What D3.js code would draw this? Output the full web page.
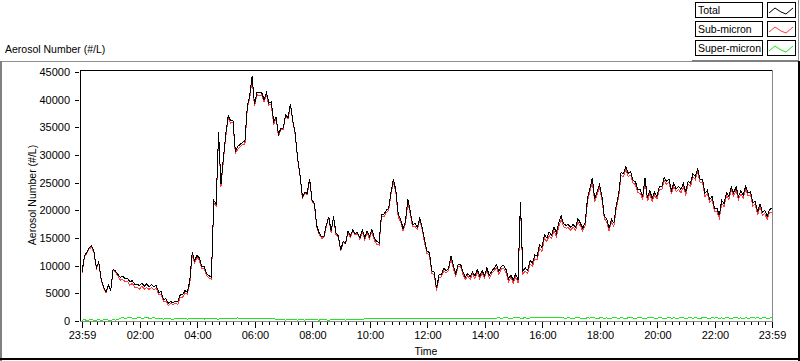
<!DOCTYPE html>
<html><head><meta charset="utf-8">
<script src="https://cdn.jsdelivr.net/npm/d3@7"></script>
<style>
html,body{margin:0;padding:0;background:#fff;overflow:hidden;}
svg{display:block;font-family:"Liberation Sans",Arial,sans-serif;}
</style></head><body>
<svg id="c" width="800" height="361"></svg>
<script>
// ---- data (5-minute samples from 23:59 to 23:59 next day) ----
const seriesNames = ["Total", "Sub-micron", "Super-micron"];
const seriesColors = ["#000000", "#ff3c3c", "#1ee81e"];
const stepMinutes = 5;

const total = [
8800,11700,12400,13200,13600,12500,9600,10700,7600,6200,
5300,6500,5600,9400,9000,8400,7900,8100,7600,7700,
7100,7300,6600,6700,6400,6800,6300,6700,6200,6600,
6200,6400,5200,5300,3900,4000,3200,3500,3300,3600,
3500,4700,4700,5500,5200,7300,12400,10900,11900,11400,
9800,9800,8600,8200,7900,21800,21200,34100,24700,29300,
33700,37100,36200,36300,30700,31600,31900,32300,32500,38800,
40700,44200,39200,41300,41200,41300,40000,41300,39400,39600,
36000,36800,33700,34800,34900,37300,36700,39200,36200,33900,
29400,26400,22400,23200,23100,25700,21900,21200,17200,15900,
15200,15300,17400,18800,16200,18900,15900,15400,12800,14400,
14100,16200,15400,16400,15800,16000,15000,16500,15100,16300,
15300,16600,15000,14400,14100,19300,19300,20000,20400,23400,
25600,23600,19200,18400,16700,17900,22000,19800,17400,17600,
17000,18600,16900,14600,12600,12400,9100,8800,5900,8300,
8400,9500,9100,9500,11800,10000,8500,10300,10300,8900,
7900,8600,8000,8900,8100,9300,8100,9100,8200,9600,
8200,9000,9500,10200,9000,9900,10000,9300,7600,8300,
7400,8500,7500,21500,9000,9600,9100,10900,10500,11900,
11700,13800,13300,15600,15000,16100,15500,17000,15900,17700,
19000,17600,17300,17400,16900,17500,16900,18500,17700,16800,
17700,22200,23900,25800,22000,23400,24600,22600,19000,18500,
16800,18400,17700,20900,22900,26900,26600,27900,26700,27000,
25400,25200,23700,23700,22400,25800,22200,23500,22200,23300,
22500,24300,24300,25900,25200,25700,23600,24900,23900,24300,
23800,24800,23300,25300,24900,26600,26100,27500,25500,25600,
23100,23600,22000,22500,20400,20400,19100,21800,21200,23200,
22500,24200,23100,24300,22500,23500,22700,24400,23100,23400,
21400,21600,19700,21200,19700,20000,18900,20200,20300
];

const subMicron = [
8650,11470,12280,13020,13350,12360,9440,10480,7470,6010,
5060,6350,5480,9190,8830,8140,7380,7500,7120,7150,
6460,6790,6130,6140,5780,6300,5760,6000,5710,6070,
5590,5920,4820,4860,3550,3600,2740,3140,2970,3180,
3020,4330,4310,5050,4860,6890,11930,10520,11540,10970,
9410,9450,8160,7800,7530,21340,20820,33760,24280,28910,
33250,36680,35720,35910,30260,31040,31500,31870,32000,38420,
40250,43730,38790,40910,40680,40860,39600,40840,39020,39170,
35510,36600,33440,34620,34680,37150,36460,39010,35990,33630,
29230,26170,22200,23040,22850,25490,21720,20960,17000,15730,
14940,15080,17210,18650,15970,18690,15630,15220,12600,14160,
13930,15980,15140,16210,15590,15820,14750,16200,14720,15880,
14840,16200,14560,13900,13710,18870,18830,19590,20020,22950,
25080,23180,18800,17940,16270,17510,21520,19360,16990,17040,
16580,18220,16450,14130,12200,11970,8610,8380,5510,7850,
7990,9030,8670,9100,11340,9480,8090,9860,9910,8430,
7470,8190,7520,8450,7700,8870,7600,8680,7810,9140,
7760,8590,9030,9670,8420,9400,9450,8690,7080,7810,
6840,7960,6900,20990,8470,9030,8600,10350,9880,11220,
11100,13150,12580,14990,14360,15410,14900,16340,15280,17000,
18370,17050,16790,16820,16370,17010,16340,17900,17180,16260,
17200,21630,23370,25190,21450,22900,24060,22020,18480,17940,
16310,17870,17100,20350,22390,26330,26060,27400,26140,26380,
24870,24690,23150,23120,21880,25310,21640,22960,21600,22770,
21990,23730,23750,25400,24660,25110,23080,24340,23390,23770,
23200,24250,22810,24760,24320,26080,25540,26970,25000,25030,
22490,23060,21490,21940,19870,19810,18600,21250,20680,22620,
21960,23690,22540,23700,21970,22950,22200,23830,22580,22860,
20810,21070,19140,20690,19150,19420,18380,19660,19700
];

const superMicron = [
150,230,120,180,250,140,160,220,130,190,240,150,120,210,170,260,
520,600,480,550,640,510,470,560,620,500,540,700,490,530,610,480,
380,440,350,400,460,360,330,420,480,370,390,450,340,410,470,380,360,430,390,350,440,400,370,460,380,340,420,390,450,
420,480,390,440,560,400,430,500,380,450,470,410,390,520,440,400,460,380,430,490,
200,260,180,220,150,240,190,210,270,170,230,200,160,250,210,180,240,200,170,260,220,190,150,230,210,270,180,200,240,170,220,260,190,210,180,
250,300,380,420,460,400,440,500,390,430,470,410,380,450,520,420,400,460,430,390,480,440,410,560,420,380,450,470,400,430,490,420,390,450,410,470,430,400,460,520,410,440,390,470,430,410,480,450,400,430,500,420,390,460,440,410,470,
530,580,500,550,610,520,490,560,540,600,510,530,570,500,550,
620,680,600,650,720,610,640,690,600,660,620,700,630,
550,510,580,530,490,560,600,520,540,500,570,530,610,550,500,540,580,520,560,490,
530,600,550,510,570,540,500,560,620,530,510,550,580,520,490,560,540,600,530,510,
570,550,500,540,590,520,560,510,530,600,550,490,540,580,520,560,530,500,570,610,
540,510,560,530,590,500,550,520,580,540,510,560,600,530,550,500,570,520,540,590,
530,560,510,550,580,520,540,600
];

const xTickLabels = ["23:59","02:00","04:00","06:00","08:00","10:00","12:00","14:00","16:00","18:00","20:00","22:00","23:59"];
const yTickValues = [0,5000,10000,15000,20000,25000,30000,35000,40000,45000];
const chartTitle = "Aerosol Number (#/L)";
const yAxisTitle = "Aerosol Number (#/L)";
const xAxisTitle = "Time";

// ---- drawing ----
const svg = d3.select("#c");
const t0 = new Date(2000, 0, 1, 23, 59);
const t1 = new Date(2000, 0, 2, 23, 59);
const x = d3.scaleTime().domain([t0, t1]).range([82, 772]);
const y = d3.scaleLinear().domain([0, 45000]).range([321, 72]);
const times = total.map((_, i) => new Date(t0.getTime() + i * stepMinutes * 60000));

// outer panel borders
svg.append("rect").attr("x",0).attr("y",0).attr("width",800).attr("height",361).attr("fill","#fff");
svg.append("line").attr("x1",0).attr("x2",692).attr("y1",61.5).attr("y2",61.5).attr("stroke","#909090");
svg.append("line").attr("x1",692).attr("x2",798).attr("y1",61).attr("y2",61).attr("stroke","#808080").attr("stroke-width",2);
svg.append("line").attr("x1",1).attr("x2",1).attr("y1",61).attr("y2",361).attr("stroke","#808080").attr("stroke-width",2);
svg.append("line").attr("x1",0).attr("x2",800).attr("y1",359).attr("y2",359).attr("stroke","#000").attr("stroke-width",2);
svg.append("line").attr("x1",798.5).attr("x2",798.5).attr("y1",0).attr("y2",61).attr("stroke","#909090");
svg.append("line").attr("x1",799).attr("x2",799).attr("y1",61).attr("y2",361).attr("stroke","#000").attr("stroke-width",2);

// title
svg.append("text").attr("x",5).attr("y",53).attr("font-size","10.5px").attr("fill","#000").text(chartTitle);

// plot frame
const frame = svg.append("g").attr("shape-rendering","crispEdges");
frame.append("line").attr("x1",80.5).attr("x2",80.5).attr("y1",70).attr("y2",322).attr("stroke","#000");
frame.append("line").attr("x1",80).attr("x2",773).attr("y1",70.5).attr("y2",70.5).attr("stroke","#000");
frame.append("line").attr("x1",772.5).attr("x2",772.5).attr("y1",70).attr("y2",322).attr("stroke","#888");
frame.append("line").attr("x1",80).attr("x2",773).attr("y1",321.5).attr("y2",321.5).attr("stroke","#888");

// y axis
const gy = svg.append("g").attr("transform","translate(79,0)")
  .call(d3.axisLeft(y).tickValues(yTickValues).tickSize(4).tickPadding(5).tickFormat(d3.format("d")));
gy.select(".domain").remove();
gy.selectAll("text").attr("font-size","11px").attr("font-family","Liberation Sans, Arial, sans-serif").attr("fill","#000");
gy.selectAll("line").attr("stroke","#000").attr("shape-rendering","crispEdges");

// x axis
const parseHM = s => s.split(":").map(Number);
const majorDates = xTickLabels.map((s, i) => {
  if (i === 0) return t0;
  if (i === xTickLabels.length - 1) return t1;
  const [h, m] = parseHM(s);
  return new Date(2000, 0, 2, h, m);
});
const minorDates = d3.timeMinute.every(15).range(t0, t1);
const gxm = svg.append("g").attr("transform","translate(0,322)")
  .call(d3.axisBottom(x).tickValues(minorDates).tickSize(3).tickFormat(""));
gxm.select(".domain").remove();
gxm.selectAll("line").attr("stroke","#000").attr("shape-rendering","crispEdges");
const gx = svg.append("g").attr("transform","translate(0,322)")
  .call(d3.axisBottom(x).tickValues(majorDates).tickSize(6).tickPadding(3)
    .tickFormat((d, i) => xTickLabels[i]));
gx.select(".domain").remove();
gx.selectAll("text").attr("font-size","11px").attr("font-family","Liberation Sans, Arial, sans-serif").attr("fill","#000");
gx.selectAll("line").attr("stroke","#000").attr("shape-rendering","crispEdges");

// axis titles
svg.append("text").attr("x",426).attr("y",355).attr("text-anchor","middle").attr("font-size","10.5px").text(xAxisTitle);
svg.append("text").attr("transform","translate(36,195) rotate(-90)").attr("text-anchor","middle")
  .attr("font-size","10.5px").text(yAxisTitle);

// data lines
const line = d3.line().x((d, i) => x(times[i])).y(d => y(d));
const seriesData = [superMicron, subMicron, total];
const seriesColorOrder = [seriesColors[2], seriesColors[1], seriesColors[0]];
svg.append("g").selectAll("path").data(seriesData).join("path")
  .attr("d", d => line(d))
  .attr("fill","none")
  .attr("stroke",(d, i) => seriesColorOrder[i])
  .attr("stroke-width",1)
  .attr("shape-rendering","crispEdges");

// legend
const lg = svg.append("g").attr("shape-rendering","crispEdges");
const rowsY = [2, 21, 40];
const iconPts = [[2,11],[8,6],[14,10],[19,12],[26,6]];
seriesNames.forEach((name, i) => {
  const yy = rowsY[i];
  lg.append("rect").attr("x",695.5).attr("y",yy+0.5).attr("width",67).attr("height",15)
    .attr("fill","#fff").attr("stroke","#000");
  lg.append("text").attr("x",698).attr("y",yy+12).attr("font-size","10.5px").attr("fill","#000")
    .attr("shape-rendering","auto").text(name);
  lg.append("rect").attr("x",767.5).attr("y",yy+0.5).attr("width",28).attr("height",15)
    .attr("fill","#fff").attr("stroke","#000");
  lg.append("path").attr("d", d3.line()(iconPts.map(p => [767 + p[0], yy + p[1]])))
    .attr("fill","none").attr("stroke",seriesColors[i]).attr("shape-rendering","auto");
});
</script>
</body></html>
